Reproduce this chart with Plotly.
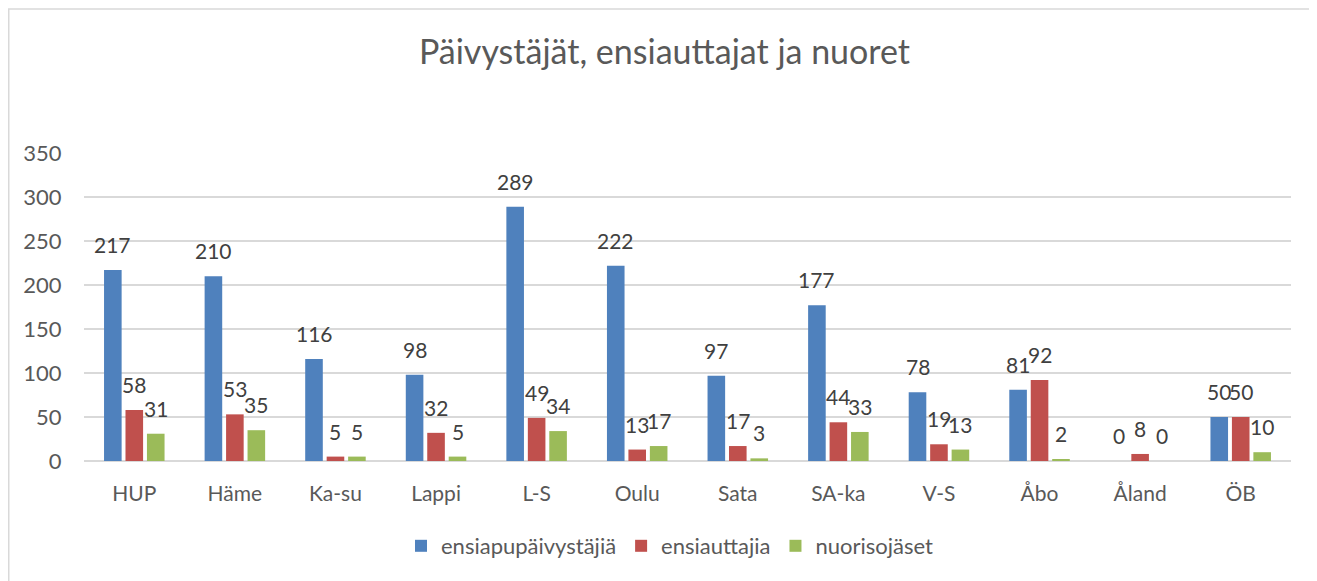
import plotly.graph_objects as go

categories = ["HUP", "Häme", "Ka-su", "Lappi", "L-S", "Oulu", "Sata", "SA-ka", "V-S", "Åbo", "Åland", "ÖB"]
ensiapupaivystajia = [217, 210, 116, 98, 289, 222, 97, 177, 78, 81, 0, 50]
ensiauttajia = [58, 53, 5, 32, 49, 13, 17, 44, 19, 92, 8, 50]
nuorisojaset = [31, 35, 5, 5, 34, 17, 3, 33, 13, 2, 0, 10]
series_names = ["ensiapupäivystäjiä", "ensiauttajia", "nuorisojäset"]
colors = ["#4F81BD", "#C0504D", "#9BBB59"]
y_ticks = [0, 50, 100, 150, 200, 250, 300, 350]

FONT = "Lato"
BARGAP = 0.36
series = [ensiapupaivystajia, ensiauttajia, nuorisojaset]

# page has an 8px body margin; compensate
OFF = 8
W, H = 1317 - OFF, 581 - OFF
PL, PR, PT, PB = 84 - OFF, 1291 - OFF, 153 - OFF, 461 - OFF
PW, PH = PR - PL, PB - PT

fig = go.Figure()
for name, vals, col in zip(series_names, series, colors):
    fig.add_trace(go.Bar(x=categories, y=vals, name=name, marker=dict(color=col, line=dict(width=0))))

slot = (1 - BARGAP) / 3
annotations = []
for k, vals in enumerate(series):
    for i, v in enumerate(vals):
        annotations.append(dict(
            x=i + (k - 1) * slot, y=v, xref="x", yref="y", text=str(v), showarrow=False,
            yanchor="bottom", xanchor="center", yshift=11,
            font=dict(family=FONT, size=21, color="#404040")))

fig.update_layout(
    width=W, height=H,
    margin=dict(l=PL, r=W - PR, t=PT, b=H - PB),
    paper_bgcolor="white", plot_bgcolor="white",
    barmode="group", bargap=BARGAP, bargroupgap=0.18,
    title=dict(text="Päivystäjät, ensiauttajat ja nuoret", x=(664.5 - 84) / 1207, xref="paper",
               xanchor="center", y=1 - (52 - OFF) / H, yref="container", yanchor="middle",
               font=dict(family=FONT, size=34, color="#595959")),
    font=dict(family=FONT, color="#595959"),
    legend=dict(orientation="h", x=(670 - 84) / 1207, xanchor="center", y=-(546 - 461) / PH, yanchor="middle",
                font=dict(family=FONT, size=22, color="#595959"), traceorder="normal",
                itemwidth=30, tracegroupgap=0),
    annotations=annotations,
    showlegend=True,
)
fig.update_xaxes(type="category", showgrid=False, showline=False, zeroline=False,
                 ticks="outside", ticklen=14, tickcolor="rgba(0,0,0,0)",
                 tickfont=dict(family=FONT, size=21, color="#595959"))
fig.update_yaxes(range=[0, 350], tickvals=y_ticks, showgrid=True, gridcolor="#D9D9D9", gridwidth=1.5,
                 zeroline=True, zerolinecolor="#D9D9D9", zerolinewidth=1.5, showline=False,
                 ticks="outside", ticklen=17, tickcolor="rgba(0,0,0,0)",
                 tickfont=dict(family=FONT, size=22, color="#595959"))

# outer chart border (left/top edges visible)
fig.add_shape(type="rect", xref="paper", yref="paper",
              x0=(0.75 - PL) / PW, x1=(W + 20 - PL) / PW,
              y0=(PB - (H + 30)) / PH, y1=(PB - 1) / PH,
              line=dict(color="#D9D9D9", width=1.5), fillcolor="rgba(0,0,0,0)", layer="below")

fig.write_html("out.html")
